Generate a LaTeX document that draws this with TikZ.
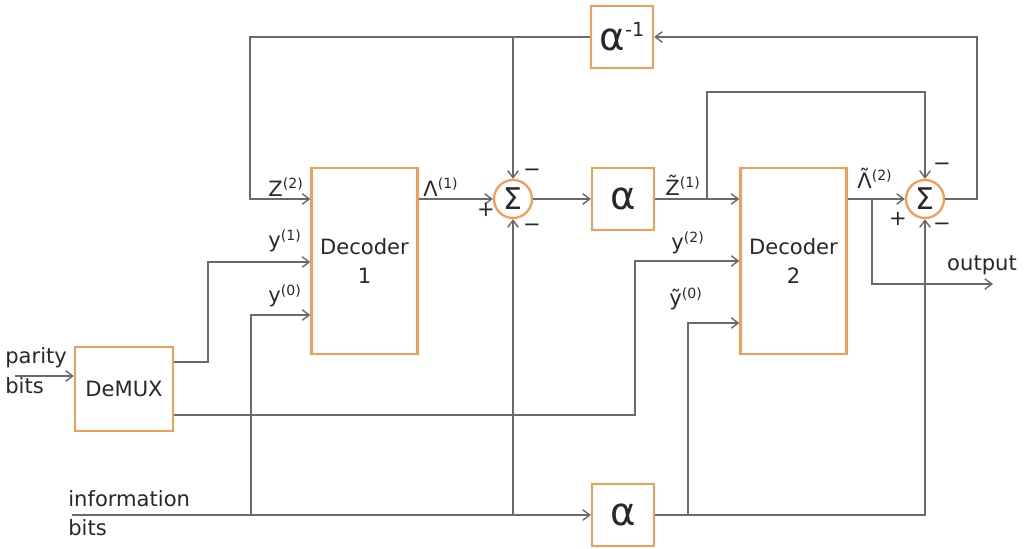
\documentclass[tikz,border=0pt]{standalone}
\usepackage{fontspec}
\setmainfont{DejaVu Sans}
\usepackage{xcolor}
\usetikzlibrary{arrows.meta}
\definecolor{orangebloc}{RGB}{242,158,85}
\definecolor{grisfil}{RGB}{105,105,105}
\definecolor{gristexte}{RGB}{40,40,40}
% tilde posee au-dessus d'une lettre
\newcommand{\surtilde}[1]{\leavevmode\setbox0\hbox{#1}%
    \rlap{\raisebox{\dimexpr\ht0-1ex\relax}{\makebox[\wd0]{\char"02DC}}}\box0}

\begin{document}
\begin{tikzpicture}[x=0.02cm, y=-0.02cm,
    bloc/.style={draw=orangebloc, line width=1.3pt, fill=white, inner sep=0pt,
        minimum width=1.24cm, minimum height=1.24cm, text=gristexte},
    grandalpha/.style={font=\fontsize{22}{22}\selectfont},
    decodeur/.style={minimum width=2.12cm, minimum height=3.72cm, align=center,
        font=\fontsize{12}{16}\selectfont},
    somme/.style={circle, draw=orangebloc, line width=1.3pt, fill=white, inner sep=0pt,
        minimum size=0.76cm, text=gristexte, font=\fontsize{17}{17}\selectfont},
    fil/.style={draw=grisfil, line width=0.8pt},
    lab/.style={text=gristexte, inner sep=0pt, font=\fontsize{12}{14}\selectfont},
    signe/.style={text=gristexte, inner sep=0pt, font=\fontsize{12}{12}\selectfont},
    >={Straight Barb[length=4pt, width=6pt]}]

    \useasboundingbox (0,0) rectangle (1028,548);

    % Blocs
    \node[bloc, grandalpha] (ainv) at (622,37) {α\raisebox{8pt}{\fontsize{11}{11}\selectfont -1}};
    \node[bloc, grandalpha] (amil) at (623,199) {α};
    \node[bloc, grandalpha] (abas) at (623,515) {α};
    \node[bloc, decodeur] (dec1) at (364.5,261) {Decoder\\1};
    \node[bloc, decodeur] (dec2) at (793.5,261) {Decoder\\2};
    \node[bloc, minimum width=1.96cm, minimum height=1.68cm,
        font=\fontsize{12}{14}\selectfont] (dmx) at (124,389) {DeMUX};
    \node[somme] (sum1) at (513,199) {Σ};
    \node[somme] (sum2) at (925,199) {Σ};

    % Coins des fils
    \coordinate (hg) at (250,37);    % retour haut gauche
    \coordinate (hd) at (977,37);    % retour haut droit
    \coordinate (bz) at (707,199);   % depart de la boucle z
    \coordinate (bzh) at (707,92);   % haut de la boucle z
    \coordinate (bl) at (872,199);   % depart vers la sortie
    \coordinate (out) at (993,284);  % sortie
    \coordinate (d1b) at (208,362);  % DeMUX vers decodeur 1
    \coordinate (d1h) at (208,262);
    \coordinate (d2b) at (635,415);  % DeMUX vers decodeur 2
    \coordinate (d2h) at (635,261);
    \coordinate (par) at (15,376);   % bits de parite
    \coordinate (info) at (72,515);  % bits d'information
    \coordinate (y0) at (251,315);
    \coordinate (yt0) at (688,323);

    % Fils
    \draw[fil,->] (ainv.west) -- (hg) |- (dec1.west |- sum1);
    \draw[fil,->] (sum1 |- hg) -- (sum1.north);
    \draw[fil,->] (dec1.east |- sum1) -- (sum1.west);
    \draw[fil,->] (sum1.east) -- (amil.west);
    \draw[fil,->] (amil.east) -- (dec2.west |- amil);
    \draw[fil,->] (bz) -- (bzh) -| (sum2.north);
    \draw[fil,->] (dec2.east |- sum2) -- (sum2.west);
    \draw[fil,->] (bl) |- (out);
    \draw[fil,->] (sum2.east) -| (hd) -- (ainv.east);
    \draw[fil,->] (dmx.east |- d1b) -- (d1b) -- (d1h) -- (dec1.west |- d1h);
    \draw[fil,->] (dmx.east |- d2b) -- (d2b) -- (d2h) -- (dec2.west |- d2h);
    \draw[fil,->] (par) -- (dmx.west |- par);
    \draw[fil,->] (info) -- (abas.west);
    \draw[fil,->] (y0 |- info) -- (y0) -- (dec1.west |- y0);
    \draw[fil,->] (sum1 |- info) -- (sum1.south);
    \draw[fil,->] (abas.east) -| (sum2.south);
    \draw[fil,->] (yt0 |- abas) -- (yt0) -- (dec2.west |- yt0);

    % Etiquettes
    \node[lab] (lz2) at (286,187) {Z\textsuperscript{(2)}};
    \node[lab] (ly1) at (285,241) {y\textsuperscript{(1)}};
    \node[lab] (ly0) at (285,296) {y\textsuperscript{(0)}};
    \node[lab] (ll1) at (441,187) {Λ\textsuperscript{(1)}};
    \node[lab] (lz1) at (683,185) {\surtilde{Z}\textsuperscript{(1)}};
    \node[lab] (ly2) at (688,243) {y\textsuperscript{(2)}};
    \node[lab] (lyt0) at (686,299) {ỹ\textsuperscript{(0)}};
    \node[lab] (ll2) at (875,178) {\surtilde{Λ}\textsuperscript{(2)}};
    \node[lab] (lout) at (982,265) {output};
    \node[lab, anchor=west] (lpar) at (5,358) {parity};
    \node[lab, anchor=west] (lpbits) at (5,386) {bits};
    \node[lab, anchor=west] (linfo) at (68,499) {information};
    \node[lab, anchor=west] (libits) at (68,528) {bits};

    % Signes des sommateurs
    \node[signe] (s1p) at (486,210) {+};
    \node[signe] (s1h) at (532,173) {−};
    \node[signe] (s1b) at (532,228) {−};
    \node[signe] (s2p) at (898,219) {+};
    \node[signe] (s2h) at (942,167) {−};
    \node[signe] (s2b) at (942,227) {−};

\end{tikzpicture}
\end{document}
